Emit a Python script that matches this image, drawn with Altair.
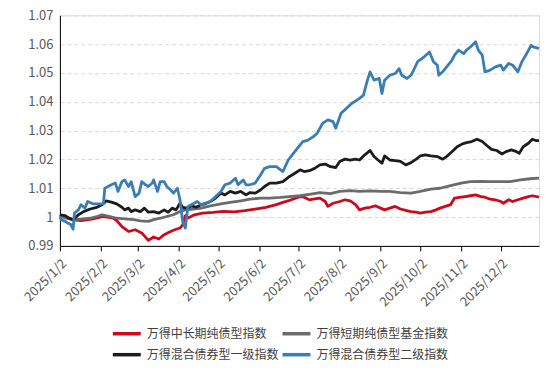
import altair as alt
import pandas as pd

series_names = ["万得中长期纯债型指数", "万得短期纯债型基金指数", "万得混合债券型一级指数", "万得混合债券型二级指数"]
series_colors = ["#CC0A1E", "#6B6B6B", "#1C1C1C", "#3A7DB4"]

red_dates = ["2025/01/02","2025/01/07","2025/01/12","2025/01/18","2025/01/26","2025/02/04","2025/02/11","2025/02/14","2025/02/18","2025/02/23",
             "2025/02/28","2025/03/05","2025/03/10","2025/03/14","2025/03/18","2025/03/22","2025/03/26","2025/03/30","2025/04/03","2025/04/05",
             "2025/04/07","2025/04/09","2025/04/14","2025/04/20","2025/04/28","2025/05/06","2025/05/14","2025/05/22","2025/05/30","2025/06/07",
             "2025/06/15","2025/06/20","2025/06/25","2025/06/30","2025/07/03","2025/07/06","2025/07/10","2025/07/14","2025/07/18","2025/07/22",
             "2025/07/24","2025/07/28","2025/08/02","2025/08/06","2025/08/10","2025/08/14","2025/08/17","2025/08/21","2025/08/25","2025/08/29",
             "2025/09/02","2025/09/05","2025/09/09","2025/09/13","2025/09/17","2025/09/21","2025/09/25","2025/09/29","2025/10/02","2025/10/06",
             "2025/10/10","2025/10/14","2025/10/17","2025/10/21","2025/10/25","2025/10/28","2025/11/02","2025/11/05","2025/11/09","2025/11/13",
             "2025/11/17","2025/11/20","2025/11/24","2025/11/28","2025/12/02","2025/12/04","2025/12/08","2025/12/11","2025/12/15","2025/12/19",
             "2025/12/23","2025/12/26","2025/12/31"]
red_vals = [1.0008,0.9997,0.9990,0.9988,0.9993,1.0002,0.9997,0.9988,0.9967,0.9950,
            0.9956,0.9945,0.9919,0.9931,0.9924,0.9939,0.9948,0.9956,0.9962,0.9973,
            1.0005,0.9997,1.0008,1.0014,1.0016,1.0020,1.0018,1.0022,1.0028,1.0034,
            1.0043,1.0051,1.0058,1.0066,1.0071,1.0069,1.0060,1.0063,1.0066,1.0054,
            1.0037,1.0048,1.0054,1.0060,1.0056,1.0043,1.0025,1.0031,1.0034,1.0039,
            1.0031,1.0025,1.0031,1.0037,1.0028,1.0023,1.0019,1.0017,1.0014,1.0017,
            1.0019,1.0025,1.0031,1.0037,1.0043,1.0066,1.0069,1.0071,1.0074,1.0077,
            1.0071,1.0069,1.0062,1.0060,1.0054,1.0048,1.0060,1.0054,1.0060,1.0066,
            1.0071,1.0074,1.0069]

gray_dates = ["2025/01/02","2025/01/07","2025/01/13","2025/01/20","2025/01/25","2025/01/30","2025/02/03","2025/02/09","2025/02/14","2025/02/20",
              "2025/02/27","2025/03/04","2025/03/10","2025/03/14","2025/03/19","2025/03/24","2025/03/29","2025/04/03","2025/04/07","2025/04/13",
              "2025/04/19","2025/04/26","2025/05/04","2025/05/11","2025/05/19","2025/05/26","2025/06/03","2025/06/10","2025/06/18","2025/06/25",
              "2025/07/03","2025/07/10","2025/07/18","2025/07/26","2025/08/02","2025/08/10","2025/08/17","2025/08/25","2025/09/02","2025/09/09",
              "2025/09/17","2025/09/25","2025/10/02","2025/10/10","2025/10/17","2025/10/25","2025/11/02","2025/11/09","2025/11/17","2025/11/24",
              "2025/12/02","2025/12/09","2025/12/17","2025/12/24","2025/12/31"]
gray_vals = [1.0002,0.9996,0.9991,0.9994,0.9996,1.0002,1.0008,1.0002,0.9996,0.9994,
             0.9991,0.9987,0.9985,0.9991,0.9996,1.0002,1.0008,1.0019,1.0025,1.0028,
             1.0031,1.0039,1.0046,1.0051,1.0056,1.0062,1.0066,1.0066,1.0068,1.0071,
             1.0074,1.0079,1.0085,1.0081,1.0089,1.0092,1.0089,1.0091,1.0089,1.0089,
             1.0085,1.0083,1.0089,1.0097,1.0100,1.0109,1.0118,1.0123,1.0124,1.0123,
             1.0123,1.0123,1.0129,1.0133,1.0135]

black_dates = ["2025/01/02","2025/01/06","2025/01/09","2025/01/12","2025/01/16","2025/01/20","2025/01/25","2025/01/30","2025/02/03","2025/02/06",
               "2025/02/10","2025/02/14","2025/02/18","2025/02/20","2025/02/23","2025/02/25","2025/02/28","2025/03/04","2025/03/07","2025/03/10",
               "2025/03/14","2025/03/18","2025/03/22","2025/03/25","2025/03/28","2025/03/31","2025/04/03","2025/04/05","2025/04/08","2025/04/12",
               "2025/04/15","2025/04/19","2025/04/22","2025/04/26","2025/04/30","2025/05/04","2025/05/07","2025/05/11","2025/05/15","2025/05/19",
               "2025/05/23","2025/05/26","2025/05/30","2025/06/03","2025/06/06","2025/06/10","2025/06/15","2025/06/20","2025/06/25","2025/06/29",
               "2025/07/03","2025/07/06","2025/07/10","2025/07/14","2025/07/18","2025/07/22","2025/07/26","2025/07/30","2025/08/02","2025/08/06",
               "2025/08/10","2025/08/14","2025/08/17","2025/08/21","2025/08/25","2025/08/28","2025/08/31","2025/09/03","2025/09/05","2025/09/09",
               "2025/09/13","2025/09/17","2025/09/21","2025/09/25","2025/09/29","2025/10/02","2025/10/06","2025/10/10","2025/10/15","2025/10/19",
               "2025/10/22","2025/10/26","2025/10/30","2025/11/03","2025/11/06","2025/11/10","2025/11/14","2025/11/18","2025/11/21","2025/11/25",
               "2025/11/29","2025/12/03","2025/12/06","2025/12/10","2025/12/14","2025/12/16","2025/12/19","2025/12/23","2025/12/26","2025/12/29",
               "2025/12/31"]
black_vals = [1.0008,1.0005,0.9996,0.9991,1.0008,1.0019,1.0028,1.0034,1.0043,1.0056,
              1.0052,1.0046,1.0034,1.0025,1.0031,1.0019,1.0025,1.0019,1.0031,1.0017,
              1.0019,1.0014,1.0025,1.0017,1.0031,1.0025,1.0048,1.0034,1.0031,1.0039,
              1.0034,1.0043,1.0046,1.0054,1.0066,1.0083,1.0077,1.0089,1.0083,1.0089,
              1.0077,1.0085,1.0083,1.0094,1.0106,1.0118,1.0118,1.0123,1.0141,1.0152,
              1.0164,1.0158,1.0161,1.0169,1.0181,1.0184,1.0175,1.0172,1.0193,1.0201,
              1.0198,1.0201,1.0198,1.0216,1.0231,1.0210,1.0198,1.0187,1.0212,1.0198,
              1.0196,1.0193,1.0181,1.0189,1.0201,1.0212,1.0216,1.0212,1.0210,1.0201,
              1.0210,1.0227,1.0244,1.0254,1.0258,1.0262,1.0270,1.0262,1.0250,1.0235,
              1.0231,1.0219,1.0227,1.0233,1.0227,1.0221,1.0244,1.0256,1.0270,1.0265,
              1.0265]

blue_dates = ["2025/01/02","2025/01/03","2025/01/06","2025/01/08","2025/01/10","2025/01/12","2025/01/13","2025/01/16","2025/01/18","2025/01/21",
              "2025/01/23","2025/01/27","2025/02/01","2025/02/04","2025/02/05","2025/02/10","2025/02/13","2025/02/15","2025/02/18","2025/02/20",
              "2025/02/23","2025/02/25","2025/02/28","2025/03/03","2025/03/05","2025/03/08","2025/03/10","2025/03/13","2025/03/14","2025/03/17",
              "2025/03/19","2025/03/22","2025/03/24","2025/03/27","2025/03/29","2025/04/01","2025/04/03","2025/04/05","2025/04/07","2025/04/09",
              "2025/04/13","2025/04/16","2025/04/19","2025/04/22","2025/04/26","2025/04/30","2025/05/04","2025/05/07","2025/05/11","2025/05/15",
              "2025/05/17","2025/05/21","2025/05/23","2025/05/26","2025/05/30","2025/06/03","2025/06/06","2025/06/10","2025/06/15","2025/06/20",
              "2025/06/24","2025/06/26","2025/06/30","2025/07/05","2025/07/09","2025/07/13","2025/07/16","2025/07/20","2025/07/24","2025/07/28",
              "2025/07/30","2025/08/03","2025/08/07","2025/08/11","2025/08/15","2025/08/17","2025/08/20","2025/08/23","2025/08/25","2025/08/28",
              "2025/09/01","2025/09/03","2025/09/05","2025/09/09","2025/09/13","2025/09/16","2025/09/18","2025/09/22","2025/09/25","2025/09/27",
              "2025/09/30","2025/10/05","2025/10/09","2025/10/12","2025/10/15","2025/10/16","2025/10/19","2025/10/22","2025/10/26","2025/10/28",
              "2025/10/31","2025/11/04","2025/11/06","2025/11/09","2025/11/13","2025/11/15","2025/11/18","2025/11/20","2025/11/24","2025/11/28",
              "2025/12/02","2025/12/04","2025/12/08","2025/12/11","2025/12/15","2025/12/18","2025/12/21","2025/12/25","2025/12/27","2025/12/31"]
blue_vals = [1.0002,0.9991,0.9985,0.9979,0.9975,0.9958,1.0014,1.0025,1.0043,1.0031,
             1.0054,1.0046,1.0046,1.0046,1.0100,1.0112,1.0118,1.0089,1.0123,1.0129,
             1.0106,1.0123,1.0071,1.0083,1.0123,1.0112,1.0106,1.0118,1.0129,1.0089,
             1.0123,1.0123,1.0106,1.0094,1.0083,1.0100,1.0060,0.9985,0.9962,1.0037,
             1.0046,1.0054,1.0043,1.0048,1.0054,1.0071,1.0089,1.0112,1.0118,1.0135,
             1.0112,1.0129,1.0112,1.0112,1.0118,1.0146,1.0169,1.0175,1.0175,1.0158,
             1.0198,1.0210,1.0233,1.0262,1.0267,1.0279,1.0291,1.0325,1.0337,1.0331,
             1.0308,1.0360,1.0377,1.0394,1.0406,1.0412,1.0423,1.0475,1.0504,1.0475,
             1.0481,1.0429,1.0475,1.0492,1.0498,1.0515,1.0492,1.0481,1.0492,1.0510,
             1.0539,1.0556,1.0573,1.0539,1.0527,1.0492,1.0504,1.0521,1.0544,1.0562,
             1.0579,1.0567,1.0579,1.0590,1.0608,1.0579,1.0562,1.0504,1.0510,1.0521,
             1.0527,1.0510,1.0533,1.0527,1.0504,1.0539,1.0562,1.0596,1.0590,1.0585]

y_ticks = [0.99, 1.0, 1.01, 1.02, 1.03, 1.04, 1.05, 1.06, 1.07]

frames = []
for name, d, v in zip(series_names, [red_dates, gray_dates, black_dates, blue_dates],
                      [red_vals, gray_vals, black_vals, blue_vals]):
    frames.append(pd.DataFrame({"date": d, "value": v, "series": name}))
df = pd.concat(frames, ignore_index=True)
df["order"] = df["series"].map({n: i for i, n in enumerate(series_names)})

FONT = "Noto Sans CJK SC"

chart = alt.Chart(df).mark_line(strokeWidth=2.8, strokeJoin="round").encode(
    x=alt.X("date:T",
            scale=alt.Scale(domain=[alt.DateTime(year=2025, month=1, date=2),
                                    alt.DateTime(year=2025, month=12, date=31)], nice=False),
            axis=alt.Axis(values=[alt.DateTime(year=2025, month=m, date=2) for m in range(1, 13)],
                          format="%Y/%-m/%-d", labelAngle=-45, labelAlign="right", labelBaseline="top",
                          labelOverlap=False, grid=False, domainColor="#000000", tickColor="#000000",
                          tickSize=5, labelColor="#595959", labelFontSize=13, labelPadding=6,
                          title=None, labelFont=FONT)),
    y=alt.Y("value:Q",
            scale=alt.Scale(domain=[0.99, 1.07], nice=False, zero=False),
            axis=alt.Axis(values=y_ticks, format=".2~f", ticks=False, domainColor="#000000",
                          grid=True, gridDash=[4, 3], gridColor="#D9D9D9", labelColor="#595959",
                          labelFontSize=13, labelPadding=7, title=None, labelFont=FONT,
                          labelOverlap=False)),
    color=alt.Color("series:N",
                    scale=alt.Scale(domain=series_names, range=series_colors),
                    legend=alt.Legend(orient="none", legendX=60, legendY=312, direction="horizontal",
                                      columns=2, title=None, symbolType="M-2.8,0H2.8", symbolSize=100,
                                      symbolStrokeWidth=3.5, labelFontSize=12, labelColor="#404040",
                                      labelFont=FONT, labelOffset=13, rowPadding=7, columnPadding=-4,
                                      padding=0)),
    detail="order:O",
).properties(
    width=480, height=231,
    padding={"left": 52, "top": 7, "right": 8, "bottom": 127},
    autosize=alt.AutoSizeParams(type="none"),
).configure_view(stroke=None).configure(font=FONT)

chart.save("out.html", embed_options={"renderer": "svg", "actions": False})
